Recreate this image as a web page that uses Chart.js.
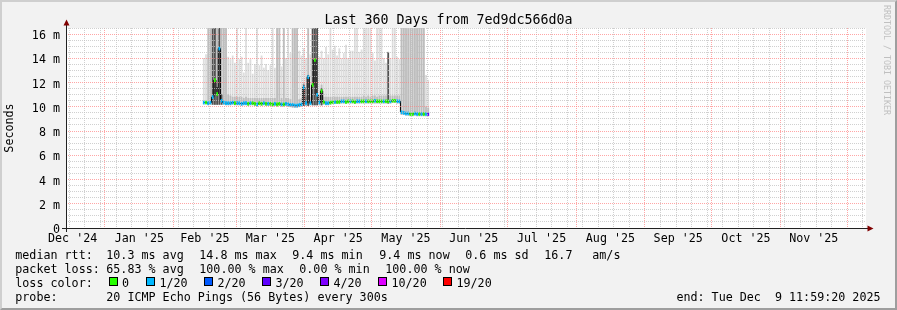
<!DOCTYPE html>
<html>
<head>
<meta charset="utf-8">
<script src="https://cdn.jsdelivr.net/npm/chart.js@4.4.1/dist/chart.umd.min.js"></script>
<style>
  html, body { margin: 0; padding: 0; }
  body {
    width: 897px; height: 310px; position: relative; overflow: hidden;
    background: #f2f2f2; font-family: "DejaVu Sans Mono", monospace; color: #000;
  }
  #chart { position: absolute; left: 0; top: 0; }
  #frame {
    position: absolute; left: 0; top: 0; width: 893px; height: 306px;
    border-top: 2px solid #cfcfcf; border-left: 2px solid #cfcfcf;
    border-right: 2px solid #9e9e9e; border-bottom: 2px solid #9e9e9e;
    pointer-events: none;
  }
  #title {
    position: absolute; left: 0; top: 12px; width: 897px; text-align: center;
    font-size: 13.3px; line-height: 16px; white-space: pre;
  }
  #credit {
    position: absolute; left: 882px; top: 5px; writing-mode: vertical-rl;
    font-size: 8.3px; line-height: 10px; color: #c0c0c0; white-space: pre;
  }
  .t { position: absolute; white-space: pre; font-size: 11.7px; line-height: 14px; }
  .box {
    position: absolute; width: 7px; height: 7px; border: 1px solid #000;
  }
</style>
</head>
<body>
<canvas id="chart" width="897" height="310"></canvas>
<div id="title">Last 360 Days from 7ed9dc566d0a</div>
<div id="credit">RRDTOOL / TOBI OETIKER</div>
<div id="legend"></div>
<div id="frame"></div>
<script>
// x values are days since the graph start (Tue Dec 14 2024 ~12:00)
const days = [
  62, 63, 64, 65, 66, 67, 68, 69, 70, 71,
  72, 73, 74, 75, 76, 77, 78, 79, 80, 81,
  82, 83, 84, 85, 86, 87, 88, 89, 90, 91,
  92, 93, 94, 95, 96, 97, 98, 99, 100, 101,
  102, 103, 104, 105, 106, 107, 108, 109, 110, 111,
  112, 113, 114, 115, 116, 117, 118, 119, 120, 121,
  122, 123, 124, 125, 126, 127, 128, 129, 130, 131,
  132, 133, 134, 135, 136, 137, 138, 139, 140, 141,
  142, 143, 144, 145, 146, 147, 148, 149, 150, 151,
  152, 153, 154, 155, 156, 157, 158, 159, 160, 161, 162, 163
];

// median rtt in ms
const medRtt = [
  10.35, 10.35, 10.3, 10.35, 10.8, 12.2, 11.05, 14.8, 10.5, 10.35,
  10.3, 10.3, 10.3, 10.35, 10.3, 10.3, 10.3, 10.25, 10.3, 10.3,
  10.25, 10.3, 10.3, 10.25, 10.2, 10.3, 10.25, 10.3, 10.25, 10.25,
  10.25, 10.2, 10.25, 10.2, 10.25, 10.2, 10.2, 10.25, 10.2, 10.15,
  10.15, 10.1, 10.1, 10.15, 10.2, 11.6, 10.3, 12.45, 10.3, 11.8,
  13.86, 11.0, 10.35, 11.3, 10.4, 10.3, 10.3, 10.35, 10.4, 10.4,
  10.4, 10.4, 10.45, 10.45, 10.4, 10.45, 10.45, 10.45, 10.4, 10.45,
  10.45, 10.45, 10.45, 10.45, 10.45, 10.45, 10.45, 10.5, 10.45, 10.45,
  10.45, 10.45, 10.45, 10.45, 10.45, 10.5, 10.5, 10.45, 10.45, 9.55,
  9.5, 9.45, 9.45, 9.4, 9.4, 9.45, 9.4, 9.4, 9.4, 9.4, 9.4, 9.4
];

// index into lossColors
const lossIdx = [
  1, 0, 1, 1, 1, 0, 0, 1, 1, 1,
  1, 1, 1, 1, 0, 1, 1, 1, 1, 1,
  0, 1, 0, 0, 1, 0, 0, 1, 0, 1,
  0, 0, 1, 0, 0, 1, 0, 1, 1, 1,
  1, 1, 1, 1, 1, 1, 1, 1, 1, 0,
  0, 1, 1, 0, 0, 1, 1, 0, 0, 1,
  0, 0, 1, 1, 0, 0, 1, 0, 0, 1,
  1, 0, 0, 1, 0, 0, 0, 1, 0, 0,
  0, 1, 0, 0, 1, 0, 0, 1, 1, 1,
  1, 1, 1, 0, 0, 1, 1, 0, 1, 0, 1, 3
];

// smoke: lowest ping, and tops of the light / medium / dark bands
const smokeLo = [
  10.2, 10.2, 10.15, 10.2, 10.2, 10.2, 10.2, 10.2, 10.2, 10.2,
  10.15, 10.15, 10.15, 10.2, 10.15, 10.15, 10.15, 10.1, 10.15, 10.15,
  10.1, 10.15, 10.15, 10.1, 10.05, 10.15, 10.1, 10.15, 10.1, 10.1,
  10.1, 10.05, 10.1, 10.05, 10.1, 10.05, 10.05, 10.1, 10.05, 10.0,
  9.95, 9.95, 9.95, 10.0, 10.05, 10.1, 10.1, 10.1, 10.15, 10.15,
  10.15, 10.15, 10.15, 10.15, 10.2, 10.15, 10.15, 10.2, 10.25, 10.25,
  10.25, 10.25, 10.3, 10.3, 10.25, 10.3, 10.3, 10.3, 10.25, 10.3,
  10.3, 10.3, 10.3, 10.3, 10.3, 10.3, 10.3, 10.3, 10.3, 10.3,
  10.3, 10.3, 10.3, 10.3, 10.3, 10.35, 10.35, 10.3, 10.3, 9.35,
  9.35, 9.3, 9.3, 9.25, 9.25, 9.3, 9.25, 9.25, 9.25, 9.25, 9.25, 9.25
];

const lightHi = [
  14.0, 14.3, 14.3, 16.5, 16.5, 16.5, 16.5, 16.5, 16.5, 16.5,
  16.5, 14.1, 13.9, 14.2, 13.6, 16.5, 13.9, 14.1, 12.8, 16.5,
  13.6, 13.9, 12.7, 13.5, 16.5, 13.4, 14.2, 13.2, 13.5, 13.0,
  13.4, 16.5, 13.2, 16.5, 16.5, 13.3, 16.5, 14.0, 16.5, 14.4,
  16.5, 16.5, 16.5, 14.6, 14.2, 14.8, 14.0, 16.5, 14.3, 16.5,
  16.5, 16.5, 14.1, 14.6, 14.0, 14.9, 14.3, 16.5, 14.7, 15.0,
  14.2, 14.8, 14.0, 14.4, 15.1, 14.0, 14.6, 14.6, 16.5, 16.5,
  14.5, 14.7, 16.5, 16.5, 16.5, 16.5, 14.4, 13.8, 16.5, 16.5,
  16.5, 14.0, 13.6, 14.2, 14.0, 16.5, 16.5, 14.1, 13.9, 16.5,
  16.5, 16.5, 16.5, 16.5, 16.5, 16.5, 16.5, 16.5, 16.5, 16.5, 12.6, 12.2
];

const midHi = [
  null, null, 16.5, 16.5, 16.5, 16.5, 16.5, 16.5, 16.5, 16.5,
  16.5, 11.0, 10.9, 10.8, 10.8, 10.8, 10.8, 10.8, 10.7, 10.8,
  10.7, 10.7, 10.7, 10.7, 10.7, 10.7, 10.7, 10.7, 10.7, 10.7,
  10.7, 10.7, 10.7, 16.5, 16.5, 10.7, 16.5, 10.7, 10.7, 10.6,
  16.5, 16.5, 16.5, 10.6, 10.7, 12.0, 10.8, 16.5, 10.8, 16.5,
  16.5, 16.5, 10.9, 11.8, 10.8, 10.8, 10.8, 10.8, 10.8, 10.8,
  10.8, 10.8, 10.8, 10.8, 10.8, 10.8, 10.8, 10.8, 10.8, 10.8,
  10.8, 10.8, 10.9, 10.8, 10.9, 10.8, 10.9, 10.9, 10.8, 10.9,
  10.9, 10.9, 10.9, 10.9, 10.9, 10.9, 10.9, 10.9, 10.9, 16.5,
  16.5, 16.5, 16.5, 16.5, 16.5, 16.5, 16.5, 16.5, 16.5, 16.5, 10.0, 9.9
];

const darkHi = [
  null, null, null, null, 16.5, 16.5, 11.6, 16.5, 11.0, null,
  null, null, null, null, null, null, null, null, null, null,
  null, null, null, null, null, null, null, null, null, null,
  null, null, null, null, null, null, null, null, null, null,
  null, null, null, null, null, 11.8, null, 12.6, null, 16.5,
  16.5, 16.5, null, 11.5, null, null, null, null, null, null,
  null, null, null, null, null, null, null, null, null, null,
  null, null, null, null, null, null, null, null, null, null,
  null, null, null, 14.5, null, null, null, null, null, null,
  null, null, null, null, null, null, null, null, null, null, null, null
];

const lossLabels = ["0", "1/20", "2/20", "3/20", "4/20", "10/20", "19/20"];
const lossColors = ["#26ff00", "#00b8ff", "#0059ff", "#5e00ff", "#7e00ff", "#dd00ff", "#ff0000"];

// x axis: month starts (major grid), mid-month label positions, first monday
const monthStarts = [17.5, 48.5, 76.5, 107.5, 137.5, 168.5, 198.5, 229.5, 260.5, 290.5, 321.5, 351.5];
const monthMids = [3, 33, 62.5, 92, 122.5, 153, 183.5, 214, 245, 275.5, 306, 336.5];
const monthLabels = ["Dec '24", "Jan '25", "Feb '25", "Mar '25", "Apr '25", "May '25",
  "Jun '25", "Jul '25", "Aug '25", "Sep '25", "Oct '25", "Nov '25"];
const firstMonday = 1.5;

// y axis
const yMajor = [0, 2, 4, 6, 8, 10, 12, 14, 16];
const yLabels = ["0", "2 m", "4 m", "6 m", "8 m", "10 m", "12 m", "14 m", "16 m"];
const yMax = 16.5;

const legendRows = [
  [[16, "median rtt:"], [107, "10.3 ms avg"], [200, "14.8 ms max"], [293, "9.4 ms min"],
   [380, "9.4 ms now"], [466, "0.6 ms sd"], [545, "16.7"], [593, "am/s"]],
  [[16, "packet loss:"], [107, "65.83 % avg"], [200, "100.00 % max"], [300, "0.00 % min"],
   [386, "100.00 % now"]],
  [[16, "loss color:"]],
  [[16, "probe:"], [107, "20 ICMP Echo Pings (56 Bytes) every 300s"]]
];
const lossBoxX = [108.5, 146, 204, 262, 320, 378, 443];
const endText = "end: Tue Dec  9 11:59:20 2025";

const MAJOR = "rgba(255,128,128,0.7)";
const MINOR = "rgba(192,192,192,0.75)";

buildLegend();
drawChart();

function buildLegend() {
  const legend = document.getElementById("legend");
  const tops = [247.5, 261.5, 275.5, 289.5];
  legendRows.forEach((row, r) => {
    row.forEach(([x, text]) => {
      const el = document.createElement("div");
      el.className = "t";
      el.style.left = (x - 0.7) + "px";
      el.style.top = tops[r] + "px";
      el.textContent = text;
      legend.appendChild(el);
    });
  });
  lossLabels.forEach((label, i) => {
    const box = document.createElement("div");
    box.className = "box";
    box.style.left = lossBoxX[i] + "px";
    box.style.top = "277px";
    box.style.background = lossColors[i];
    legend.appendChild(box);
    const el = document.createElement("div");
    el.className = "t";
    el.style.left = (lossBoxX[i] + 13.5) + "px";
    el.style.top = tops[2] + "px";
    el.textContent = label;
    legend.appendChild(el);
  });
  const end = document.createElement("div");
  end.className = "t";
  end.style.right = (897 - 880.5) + "px";
  end.style.top = tops[3] + "px";
  end.textContent = endText;
  legend.appendChild(end);
}

function smokeBars(hi) {
  return days
    .map((d, i) => (hi[i] == null ? null : { x: d, y: [smokeLo[i], hi[i]] }))
    .filter(Boolean);
}

function drawChart() {
  const mondays = [];
  for (let d = firstMonday; d < 360; d += 7) {
    if (!monthStarts.includes(d)) mondays.push(d);
  }
  const xTicks = [...new Set([...mondays, ...monthStarts, ...monthMids])].sort((a, b) => a - b);
  const yTicks = [];
  for (let v = 0; v <= yMax; v += 0.5) yTicks.push(v);

  const barBase = {
    type: "bar",
    grouped: false,
    barPercentage: 1,
    categoryPercentage: 1,
    borderWidth: 0,
  };

  const plotBg = {
    id: "plotBg",
    beforeDraw(chart) {
      const { ctx, chartArea: a } = chart;
      ctx.save();
      ctx.fillStyle = "#ffffff";
      ctx.fillRect(a.left, a.top, a.right - a.left, a.bottom - a.top);
      ctx.restore();
    },
  };

  const rrdAxes = {
    id: "rrdAxes",
    afterDraw(chart) {
      const { ctx, chartArea: a } = chart;
      const x0 = a.left + 0.5;
      const y0 = a.bottom + 0.5;
      ctx.save();
      ctx.strokeStyle = "#212121";
      ctx.lineWidth = 1;
      ctx.beginPath();
      ctx.moveTo(a.left - 4, y0);
      ctx.lineTo(a.right + 3, y0);
      ctx.moveTo(x0, a.bottom + 4);
      ctx.lineTo(x0, a.top - 3);
      ctx.stroke();
      ctx.fillStyle = "#800000";
      ctx.beginPath();
      ctx.moveTo(a.right + 1.5, y0 - 3);
      ctx.lineTo(a.right + 7.5, y0);
      ctx.lineTo(a.right + 1.5, y0 + 3);
      ctx.closePath();
      ctx.fill();
      ctx.beginPath();
      ctx.moveTo(x0 - 3, a.top - 2.5);
      ctx.lineTo(x0, a.top - 8.5);
      ctx.lineTo(x0 + 3, a.top - 2.5);
      ctx.closePath();
      ctx.fill();
      ctx.restore();
    },
  };

  Chart.defaults.font.family = "'DejaVu Sans Mono', monospace";
  Chart.defaults.font.size = 11.7;
  Chart.defaults.color = "#000";

  new Chart(document.getElementById("chart"), {
    type: "bar",
    data: {
      datasets: [
        {
          ...barBase,
          label: "median",
          data: days.map((d, i) => ({ x: d, y: [medRtt[i] - 0.12, medRtt[i] + 0.12] })),
          backgroundColor: lossIdx.map((k) => lossColors[k]),
        },
        {
          type: "line",
          label: "median line",
          data: days.map((d, i) => ({ x: d, y: medRtt[i] })),
          borderColor: "#000000",
          borderWidth: 1,
          pointRadius: 0,
          stepped: "middle",
        },
        { ...barBase, label: "smoke dark", data: smokeBars(darkHi), backgroundColor: "#505050" },
        { ...barBase, label: "smoke mid", data: smokeBars(midHi), backgroundColor: "#bdbdbd" },
        { ...barBase, label: "smoke light", data: smokeBars(lightHi), backgroundColor: "#dddddd" },
      ],
    },
    options: {
      responsive: false,
      animation: false,
      events: [],
      layout: { padding: { left: 0, top: 28, right: 31, bottom: 60 } },
      plugins: {
        legend: { display: false },
        title: { display: false },
        tooltip: { enabled: false },
      },
      scales: {
        x: {
          type: "linear",
          min: 0,
          max: 360,
          offset: false,
          afterBuildTicks: (scale) => {
            scale.ticks = xTicks.map((v) => ({ value: v }));
          },
          afterFit: (scale) => {
            scale.height = 22;
          },
          grid: {
            offset: false,
            z: 1,
            drawTicks: false,
            color: (c) => (monthStarts.includes(c.tick.value) ? MAJOR : MINOR),
            lineWidth: (c) => (monthMids.includes(c.tick.value) && !monthStarts.includes(c.tick.value) ? 0 : 1),
          },
          border: { display: false, dash: [1, 1] },
          ticks: {
            autoSkip: false,
            maxRotation: 0,
            minRotation: 0,
            padding: 4,
            callback: (v) => {
              const k = monthMids.indexOf(v);
              return k >= 0 ? monthLabels[k] : "";
            },
          },
        },
        y: {
          min: 0,
          max: yMax,
          afterBuildTicks: (scale) => {
            scale.ticks = yTicks.map((v) => ({ value: v }));
          },
          afterFit: (scale) => {
            scale.width = 66;
          },
          grid: {
            z: 1,
            drawTicks: false,
            color: (c) => (yMajor.includes(c.tick.value) ? MAJOR : MINOR),
          },
          border: { display: false, dash: [1, 1] },
          title: {
            display: true,
            text: "Seconds",
            padding: { top: 3, bottom: 0 },
          },
          ticks: {
            autoSkip: false,
            padding: 6,
            labelOffset: 2,
            callback: (v) => {
              const k = yMajor.indexOf(v);
              return k >= 0 ? yLabels[k] : "";
            },
          },
        },
      },
    },
    plugins: [plotBg, rrdAxes],
  });
}
</script>
</body>
</html>
